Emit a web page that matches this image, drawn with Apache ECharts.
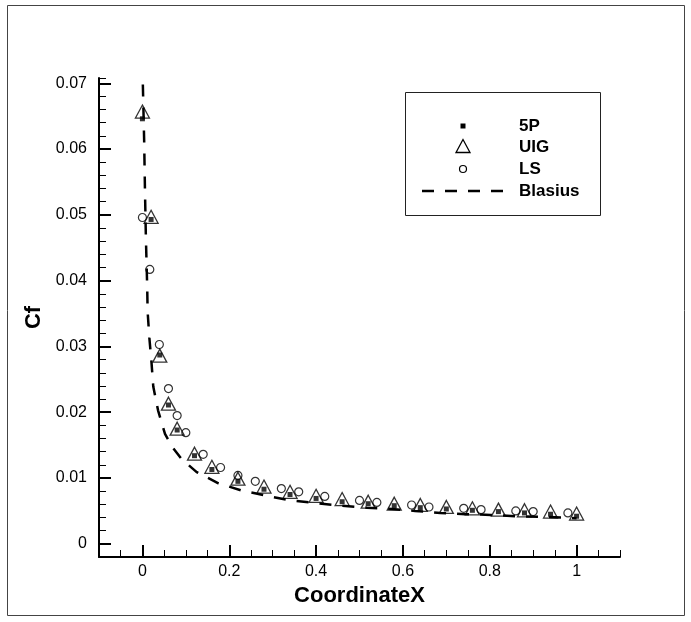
<!DOCTYPE html>
<html>
<head>
<meta charset="utf-8">
<title>Cf vs CoordinateX</title>
<script src="https://cdn.jsdelivr.net/npm/echarts@6/dist/echarts.min.js"></script>
<style type="text/css">
html, body { margin: 0; padding: 0; background: #fff; }
#chart { width: 691px; height: 622px; }
</style>
</head>
<body>
<div id="chart"></div>
<script type="text/javascript">
// values
var xMarkers = [0, 0.02, 0.04, 0.06, 0.08, 0.12, 0.16, 0.22, 0.28, 0.34, 0.40, 0.46, 0.52, 0.58, 0.64, 0.70, 0.76, 0.82, 0.88, 0.94, 1.0];
var cf5P  = [0.0646, 0.0493, 0.0287, 0.0211, 0.0173, 0.0134, 0.0113, 0.0095, 0.0083, 0.0075, 0.0069, 0.0064, 0.0061, 0.0058, 0.0055, 0.0053, 0.0051, 0.0049, 0.0047, 0.0045, 0.0042];
var cfUIG = [0.0654, 0.0494, 0.0283, 0.0210, 0.0172, 0.0134, 0.0114, 0.0096, 0.0084, 0.0076, 0.0070, 0.0065, 0.0061, 0.0058, 0.0056, 0.0053, 0.0051, 0.0049, 0.0048, 0.0046, 0.0043];

var xLS  = [0, 0.017, 0.039, 0.06, 0.08, 0.10, 0.14, 0.18, 0.22, 0.26, 0.32, 0.36, 0.42, 0.50, 0.54, 0.62, 0.66, 0.74, 0.78, 0.86, 0.90, 0.98];
var cfLS = [0.0496, 0.0417, 0.0303, 0.0236, 0.0195, 0.0169, 0.0136, 0.0116, 0.0104, 0.0095, 0.0084, 0.0079, 0.0072, 0.0066, 0.0063, 0.0059, 0.0056, 0.0054, 0.0052, 0.0050, 0.0049, 0.0047];

var xBlasius  = [0.001, 0.004, 0.006, 0.008, 0.011, 0.012, 0.016, 0.021, 0.025, 0.036, 0.052, 0.07, 0.09, 0.125, 0.175, 0.229, 0.286, 0.34, 0.398, 0.459, 0.517, 0.575, 0.628, 0.686, 0.744, 0.802, 0.859, 0.917, 0.971, 1.0];
var cfBlasius = [0.0698, 0.0613, 0.0533, 0.0465, 0.0391, 0.0353, 0.0313, 0.0275, 0.0239, 0.0203, 0.0167, 0.0146, 0.0129, 0.0109, 0.0092, 0.0081, 0.0073, 0.0066, 0.0062, 0.0058, 0.0055, 0.0053, 0.0050, 0.0047, 0.0045, 0.0044, 0.0042, 0.0041, 0.0040, 0.0039];

var xMajor = [0, 0.2, 0.4, 0.6, 0.8, 1];
var yMajor = [0, 0.01, 0.02, 0.03, 0.04, 0.05, 0.06, 0.07];
var legendNames = ['5P', 'UIG', 'LS', 'Blasius'];

var FONT = 'Liberation Sans, Arial, sans-serif';

function pairs(xs, ys) {
	var out = [];
	for (var i = 0; i < xs.length; i++) {
		out.push([xs[i], ys[i]]);
	}
	return out;
}

function isMultiple(v, step) {
	var r = v / step;
	return Math.abs(r - Math.round(r)) < 1e-6;
}

var GRID = { left: 99, right: 71, top: 78, bottom: 65 };

function buildOption() {
	// legend box drawn by hand, Tecplot style
	var lx = 463, rows = [126, 147.5, 169, 191];
	var legendGraphic = [
		{ type: 'rect', shape: { x: 7.5, y: 5.5, width: 677, height: 610 },
		  style: { fill: 'none', stroke: '#444', lineWidth: 1 }, silent: true },
		{ type: 'rect', shape: { x: 405.5, y: 92.5, width: 195, height: 123 },
		  style: { fill: '#fff', stroke: '#222', lineWidth: 1 }, z: 10 },
		{ type: 'rect', shape: { x: lx - 2.5, y: rows[0] - 2.5, width: 5, height: 5 },
		  style: { fill: '#000' }, z: 11 },
		{ type: 'polygon', shape: { points: [[lx, rows[1] - 8], [lx - 7, rows[1] + 5], [lx + 7, rows[1] + 5]] },
		  style: { fill: 'none', stroke: '#000', lineWidth: 1.3 }, z: 11 },
		{ type: 'circle', shape: { cx: lx, cy: rows[2], r: 3.5 },
		  style: { fill: 'none', stroke: '#000', lineWidth: 1.2 }, z: 11 },
		{ type: 'line', shape: { x1: 422, y1: rows[3], x2: 504, y2: rows[3] },
		  style: { stroke: '#000', lineWidth: 2.5, lineDash: [12, 11] }, z: 11 }
	];
	for (var i = 0; i < legendNames.length; i++) {
		legendGraphic.push({
			type: 'text', x: 519, y: rows[i], z: 11,
			style: { text: legendNames[i], fill: '#000', font: 'bold 17px ' + FONT, verticalAlign: 'middle' }
		});
	}

	var xBase = {
		type: 'value', min: -0.1, max: 1.1, interval: 0.05,
		position: 'bottom',
		splitLine: { show: false }
	};
	var yBase = {
		type: 'value', min: -0.002, max: 0.0708, interval: 0.002,
		position: 'left',
		splitLine: { show: false }
	};

	return {
		animation: false,
		backgroundColor: '#fff',
		grid: GRID,
		graphic: legendGraphic,
		xAxis: [
			echarts.util.extend({
				name: 'CoordinateX',
				nameLocation: 'middle',
				nameGap: 24,
				nameTextStyle: { fontFamily: FONT, fontWeight: 'bold', fontSize: 22, color: '#000' },
				axisLine: { onZero: false, lineStyle: { color: '#000', width: 2 } },
				axisTick: { inside: true, length: 7, lineStyle: { color: '#000', width: 1 } },
				axisLabel: {
					margin: 7, color: '#000', fontFamily: FONT, fontSize: 16,
					formatter: function (v) {
						if (v < -1e-9 || v > 1 + 1e-9 || !isMultiple(v, 0.2)) return '';
						return String(Math.round(v * 10) / 10);
					}
				}
			}, xBase),
			// longer major ticks on an overlaid axis
			echarts.util.extend({
				axisLine: { show: false, onZero: false },
				axisTick: { inside: true, length: 12, customValues: xMajor, lineStyle: { color: '#000', width: 2 } },
				axisLabel: { show: false }
			}, echarts.util.clone(xBase))
		],
		yAxis: [
			echarts.util.extend({
				name: 'Cf',
				nameLocation: 'middle',
				nameGap: 30,
				nameTextStyle: { fontFamily: FONT, fontWeight: 'bold', fontSize: 22, color: '#000' },
				axisLine: { onZero: false, lineStyle: { color: '#000', width: 2 } },
				axisTick: { inside: true, length: 7, lineStyle: { color: '#000', width: 1 } },
				axisLabel: {
					margin: 12, color: '#000', fontFamily: FONT, fontSize: 16,
					formatter: function (v) {
						if (v < -1e-9 || !isMultiple(v, 0.01)) return '';
						return v === 0 ? '0' : v.toFixed(2);
					}
				}
			}, yBase),
			echarts.util.extend({
				axisLine: { show: false, onZero: false },
				axisTick: { inside: true, length: 12, customValues: yMajor, lineStyle: { color: '#000', width: 2 } },
				axisLabel: { show: false }
			}, echarts.util.clone(yBase))
		],
		series: [
			{
				name: 'Blasius',
				type: 'line',
				data: pairs(xBlasius, cfBlasius),
				showSymbol: false,
				lineStyle: { color: '#000', width: 2.5, type: [12, 11] },
				z: 2
			},
			{
				name: '5P',
				type: 'scatter',
				data: pairs(xMarkers, cf5P),
				symbol: 'rect',
				symbolSize: 5,
				itemStyle: { color: '#000' },
				z: 3
			},
			{
				name: 'UIG',
				type: 'scatter',
				data: pairs(xMarkers, cfUIG),
				symbol: 'triangle',
				symbolSize: [14, 13],
				symbolOffset: [0, -2],
				itemStyle: { color: 'rgba(0,0,0,0)', borderColor: '#000', borderWidth: 1.3 },
				z: 4
			},
			{
				name: 'LS',
				type: 'scatter',
				data: pairs(xLS, cfLS),
				symbol: 'circle',
				symbolSize: 8,
				itemStyle: { color: 'rgba(0,0,0,0)', borderColor: '#000', borderWidth: 1.2 },
				z: 4
			}
		]
	};
}

var chart = echarts.init(document.getElementById('chart'));
chart.setOption(buildOption());
</script>
</body>
</html>
